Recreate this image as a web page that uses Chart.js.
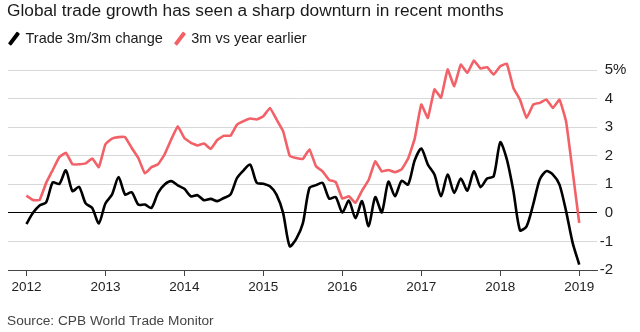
<!DOCTYPE html>
<html>
<head>
<meta charset="utf-8">
<script src="https://cdn.jsdelivr.net/npm/chart.js@4.4.1/dist/chart.umd.min.js"></script>
<style>
  html, body { margin: 0; padding: 0; background: #fff; }
  body { width: 640px; height: 332px; position: relative; overflow: hidden; font-family: "Liberation Sans", Arial, sans-serif; color: #1a1a1a; }
  #chart { position: absolute; left: 0; top: 0; }
  #title { position: absolute; left: 7px; top: 0px; font-size: 17.3px; white-space: nowrap; }
  #legend { position: absolute; left: 7px; top: 30px; font-size: 14.5px; display: flex; white-space: nowrap; }
  .key { display: flex; align-items: center; margin-right: 10px; }
  .slash { display: inline-block; width: 3.5px; height: 15px; border-radius: 1px; transform: rotate(37deg); margin: 0 10px 0 5px; }
  #source { position: absolute; left: 7px; top: 313px; font-size: 13.7px; color: #444; white-space: nowrap; }
</style>
</head>
<body>
<canvas id="chart" width="640" height="332"></canvas>
<div id="title">Global trade growth has seen a sharp downturn in recent months</div>
<div id="legend">
  <div class="key"><span class="slash" style="background:#000"></span>Trade 3m/3m change</div>
  <div class="key"><span class="slash" style="background:#f26167"></span>3m vs year earlier</div>
</div>
<div id="source">Source: CPB World Trade Monitor</div>
<script>
// monthly, Jan 2012 .. Jan 2019
const START_YEAR = 2012;
const YEAR_TICKS = [2012, 2013, 2014, 2015, 2016, 2017, 2018, 2019];
const Y_TICKS = [-2, -1, 0, 1, 2, 3, 4, 5];

const trade3m3m = [
  -0.39, 0.0, 0.26, 0.37, 1.07, 1.01, 1.49, 0.76, 0.91, 0.33, 0.17, -0.37,
  0.33, 0.64, 1.25, 0.64, 0.72, 0.29, 0.29, 0.17, 0.7, 0.99, 1.11, 0.96,
  0.84, 0.58, 0.62, 0.44, 0.49, 0.41, 0.52, 0.64, 1.22, 1.49, 1.69, 1.05,
  1.02, 0.93, 0.64, 0.0, -1.17, -0.91, -0.37, 0.87, 0.97, 1.05, 0.5, 0.55,
  0.01, 0.43, -0.19, 0.41, -0.47, 0.55, 0.02, 1.09, 0.58, 1.12, 0.99, 1.84,
  2.25, 1.69, 1.34, 0.58, 1.34, 0.7, 1.2, 0.78, 1.46, 0.9, 1.2, 1.28,
  2.47, 1.87, 0.76, -0.61, -0.47, 0.29, 1.17, 1.46, 1.34, 0.99, 0.06, -1.05,
  -1.81,
];
const vsYearEarlier = [
  0.6, 0.45, 0.45, 1.05, 1.5, 1.95, 2.1, 1.7, 1.7, 1.73, 1.9, 1.6,
  2.4, 2.6, 2.65, 2.65, 2.27, 1.92, 1.38, 1.6, 1.7, 2.05, 2.57, 3.03,
  2.62, 2.45, 2.36, 2.43, 2.24, 2.55, 2.7, 2.7, 3.09, 3.21, 3.3, 3.27,
  3.38, 3.67, 3.27, 2.86, 2.0, 1.92, 1.89, 2.22, 1.63, 1.45, 1.15, 1.08,
  0.5, 0.58, 0.35, 0.78, 1.15, 1.8, 1.45, 1.5, 1.42, 1.52, 1.9, 2.6,
  3.79, 3.32, 4.32, 4.03, 5.02, 4.43, 5.19, 4.9, 5.33, 5.05, 5.1, 4.84,
  5.13, 5.22, 4.37, 3.96, 3.32, 3.79, 3.85, 3.97, 3.67, 3.96, 3.2, 1.45,
  -0.35,
];

const toPoints = arr => arr.map((v, i) => ({ x: i, y: v }));
const monthOf = y => (y - START_YEAR) * 12;
const AXIS_FONT = '"Liberation Sans", Arial, sans-serif';

// the "%" hangs to the right of the top label so the digits stay right-aligned
const percentSign = {
  id: 'percentSign',
  afterDraw(chart) {
    const sc = chart.scales.y;
    const ctx = chart.ctx;
    ctx.save();
    ctx.font = '15px ' + AXIS_FONT;
    ctx.fillStyle = '#222';
    ctx.textAlign = 'left';
    ctx.textBaseline = 'middle';
    ctx.fillText('%', sc.right, sc.getPixelForValue(Y_TICKS[Y_TICKS.length - 1]));
    ctx.restore();
  },
};

new Chart(document.getElementById('chart'), {
  type: 'line',
  data: {
    datasets: [
      { label: 'Trade 3m/3m change', data: toPoints(trade3m3m), borderColor: '#000', borderWidth: 2.6, tension: 0.25, pointRadius: 0, clip: false },
      { label: '3m vs year earlier', data: toPoints(vsYearEarlier), borderColor: '#f26167', borderWidth: 2.6, tension: 0.1, pointRadius: 0, clip: false },
    ],
  },
  options: {
    responsive: false,
    animation: false,
    events: [],
    layout: { padding: { top: 70, left: 8, bottom: 32, right: 27 } },
    plugins: { legend: { display: false }, tooltip: { enabled: false } },
    scales: {
      x: {
        type: 'linear',
        min: -2.8,
        max: 86.7,
        afterBuildTicks: s => { s.ticks = YEAR_TICKS.map(y => ({ value: monthOf(y) })); },
        afterFit: s => { s.height = 30; },
        ticks: {
          callback: v => String(START_YEAR + v / 12),
          font: { family: AXIS_FONT, size: 13.5 },
          color: '#222',
          padding: 3,
          maxRotation: 0,
        },
        grid: { drawOnChartArea: false, drawTicks: true, tickLength: 6, color: '#444' },
        border: { display: true, color: '#444', width: 1 },
      },
      y: {
        position: 'right',
        min: -2,
        max: 5,
        afterBuildTicks: s => { s.ticks = Y_TICKS.map(v => ({ value: v })); },
        afterFit: s => { s.width = 16; },
        ticks: {
          callback: v => String(v),
          font: { family: AXIS_FONT, size: 15 },
          color: '#222',
          padding: 3,
          crossAlign: 'far',
        },
        grid: {
          drawTicks: false,
          color: c => (c.tick.value === 0 ? '#000' : c.tick.value === -2 ? 'rgba(0,0,0,0)' : '#d8d8d8'),
          lineWidth: 1,
        },
        border: { display: false },
      },
    },
  },
  plugins: [percentSign],
});
</script>
</body>
</html>
